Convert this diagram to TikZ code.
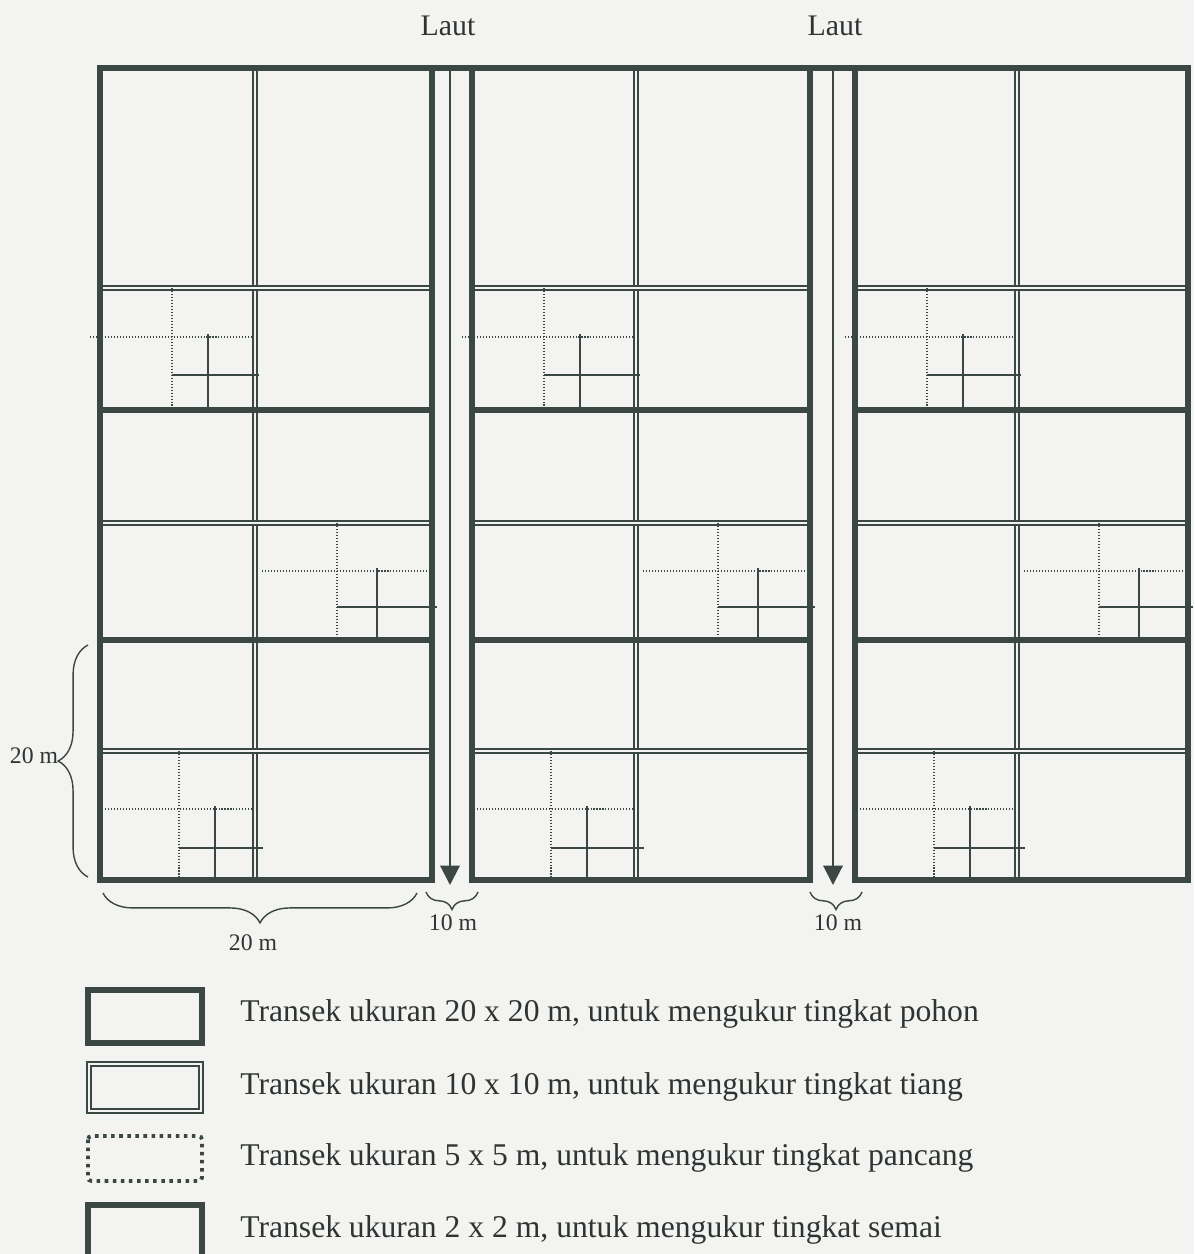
\documentclass[tikz,border=0pt]{standalone}
\usepackage{fontspec}
\setmainfont{Liberation Serif}
\usetikzlibrary{arrows.meta,decorations.pathreplacing}
\definecolor{PlotInk}{HTML}{3B4743}
\definecolor{PaperGray}{HTML}{F3F4F1}
\definecolor{TextInk}{HTML}{2E3431}

\begin{document}
\begin{tikzpicture}[
    x=0.02cm, y=-0.02cm,
    font=\fontsize{18}{21}\selectfont,
    border/.style={draw=PlotInk, line width=3.4pt, line cap=rect},
    tenline/.style={draw=PlotInk, line width=0.9pt, double=PaperGray, double distance=1.3pt},
    fiveline/.style={draw=PlotInk, line width=0.8pt, dash pattern=on 0.6pt off 1.1pt},
    twoline/.style={draw=PlotInk, line width=1.1pt},
    legdots/.style={draw=PlotInk, line width=2.2pt, dash pattern=on 2pt off 2.6pt, rounded corners=2pt},
    flow/.style={draw=PlotInk, line width=1.2pt, -{Triangle[length=11pt, width=11pt]}},
    dimbrace/.style={draw=PlotInk, line width=0.8pt, decorate, decoration={brace, amplitude=#1}},
    dimlabel/.style={text=TextInk, font=\fontsize{13.5}{16}\selectfont, anchor=base, inner sep=0pt},
    legtext/.style={text=TextInk, anchor=base west, inner sep=0pt}
]
\clip (0,0) rectangle (1194,1254);
\fill[PaperGray] (0,0) rectangle (1194,1254);

\foreach \l/\r/\m in {100/432/255, 472/810/636, 855/1188/1017} {
  \draw[tenline] (\m,68) -- (\m,880);
  \draw[tenline] (\l,288) -- (\r,288);
  \draw[tenline] (\l,523) -- (\r,523);
  \draw[tenline] (\l,751) -- (\r,751);
  \draw[fiveline] (\l+72,288) -- (\l+72,410);
  \draw[fiveline] (\l-10,337) -- (\m-3,337);
  \draw[twoline] (\l+108,334) -- (\l+108,410);
  \draw[twoline] (\l+72,375) -- (\m+4,375);
  \draw[fiveline] (\m+82,523) -- (\m+82,640);
  \draw[fiveline] (\m+7,571) -- (\r-3,571);
  \draw[twoline] (\m+122,568) -- (\m+122,640);
  \draw[twoline] (\m+82,607) -- (\r+5,607);
  \draw[fiveline] (\l+79,751) -- (\l+79,880);
  \draw[fiveline] (\l+5,809) -- (\m-3,809);
  \draw[twoline] (\l+115,806) -- (\l+115,880);
  \draw[twoline] (\l+79,848) -- (\m+8,848);
  \draw[border] (\l,68) -- (\l,880) -- (\r,880) -- (\r,68);
  \draw[border] (\l,410) -- (\r,410);
  \draw[border] (\l,640) -- (\r,640);
}
\draw[border] (100,68) -- (1188,68);

\coordinate (seaA) at (450,68);
\coordinate (shoreA) at (450,885);
\coordinate (seaB) at (833,68);
\coordinate (shoreB) at (833,885);
\draw[flow] (seaA) -- (shoreA);
\draw[flow] (seaB) -- (shoreB);

\node[text=TextInk, anchor=base, font=\fontsize{17}{20}\selectfont] (lautA) at (448,35) {Laut};
\node[text=TextInk, anchor=base, font=\fontsize{17}{20}\selectfont] (lautB) at (835,35) {Laut};

\draw[dimbrace=17pt] (417,893) -- (103,893);
\draw[dimbrace=10pt] (478,892) -- (426,892);
\draw[dimbrace=10pt] (862,892) -- (810,892);
\draw[dimbrace=17pt] (88,877) -- (88,645);
\node[dimlabel] (plotwidth) at (253,950) {20 m};
\node[dimlabel] (pathA) at (453,930) {10 m};
\node[dimlabel] (pathB) at (838,930) {10 m};
\node[dimlabel] (plotheight) at (34,763) {20 m};

\draw[border] (88,990) rectangle (202,1043);
\draw[tenline] (89,1064) rectangle (201,1111);
\draw[legdots] (88,1136) rectangle (202,1181);
\draw[border] (88,1205) rectangle (202,1262);
\node[legtext] (pohon) at (240,1021) {Transek ukuran 20 x 20 m, untuk mengukur tingkat pohon};
\node[legtext] (tiang) at (240,1094) {Transek ukuran 10 x 10 m, untuk mengukur tingkat tiang};
\node[legtext] (pancang) at (240,1165) {Transek ukuran 5 x 5 m, untuk mengukur tingkat pancang};
\node[legtext] (semai) at (240,1237) {Transek ukuran 2 x 2 m, untuk mengukur tingkat semai};
\end{tikzpicture}
\end{document}
